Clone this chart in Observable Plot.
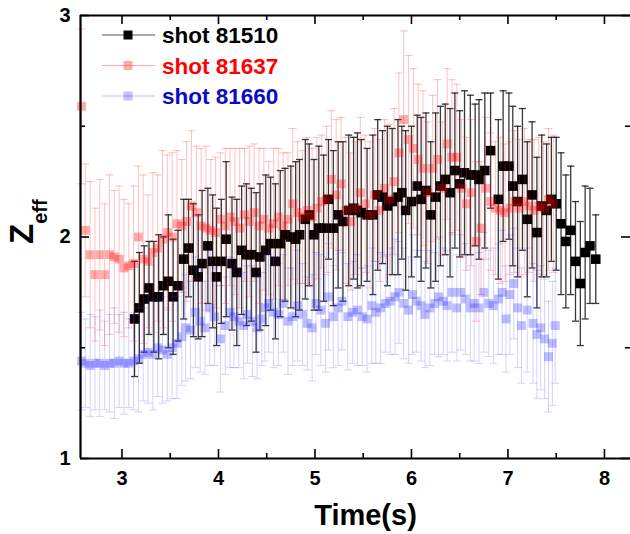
<!DOCTYPE html>
<html><head><meta charset="utf-8">
<script src="https://cdn.jsdelivr.net/npm/d3@7"></script>
<script src="https://cdn.jsdelivr.net/npm/@observablehq/plot@0.6"></script>
<style>html,body{margin:0;padding:0;background:#fff;overflow:hidden}</style>
</head><body><div id="chart"></div>
<script>
// ---- data: [time (s), Zeff, error] ----
const seriesNames = ["shot 81510", "shot 81637", "shot 81660"];
const shot81510 = [
[3.13,1.63,0.26],[3.18,1.68,0.25],[3.23,1.72,0.24],[3.28,1.77,0.21],[3.33,1.73,0.25],
[3.38,1.73,0.28],[3.43,1.78,0.22],[3.48,1.80,0.30],[3.53,1.73,0.26],[3.58,1.78,0.25],
[3.64,1.90,0.27],[3.69,1.95,0.22],[3.74,1.85,0.30],[3.79,1.82,0.28],[3.83,1.88,0.33],
[3.89,1.96,0.26],[3.94,1.89,0.30],[3.98,1.82,0.31],[4.03,1.89,0.28],[4.08,1.99,0.35],
[4.14,1.88,0.30],[4.19,1.84,0.33],[4.24,1.94,0.29],[4.29,1.92,0.32],[4.34,1.92,0.30],
[4.39,1.84,0.36],[4.43,1.91,0.33],[4.49,1.94,0.34],[4.54,1.97,0.30],[4.59,1.89,0.35],
[4.64,1.97,0.33],[4.69,2.01,0.30],[4.75,2.00,0.32],[4.80,1.99,0.35],[4.84,2.01,0.34],
[4.90,2.08,0.36],[4.94,2.10,0.32],[4.99,2.01,0.34],[5.04,2.04,0.37],[5.09,2.04,0.33],
[5.14,2.17,0.27],[5.19,2.04,0.35],[5.24,2.10,0.33],[5.29,2.07,0.36],[5.35,2.12,0.34],
[5.40,2.13,0.32],[5.44,2.12,0.35],[5.48,2.11,0.33],[5.54,2.10,0.30],[5.60,2.10,0.36],
[5.65,2.19,0.34],[5.70,2.18,0.30],[5.75,2.14,0.36],[5.80,2.16,0.33],[5.86,2.18,0.35],
[5.90,2.20,0.30],[5.94,2.12,0.36],[6.00,2.16,0.34],[6.06,2.23,0.32],[6.10,2.17,0.37],
[6.15,2.21,0.35],[6.20,2.10,0.33],[6.25,2.18,0.38],[6.30,2.23,0.36],[6.35,2.26,0.34],
[6.40,2.20,0.38],[6.45,2.30,0.35],[6.50,2.24,0.33],[6.55,2.29,0.37],[6.61,2.28,0.36],
[6.66,2.28,0.32],[6.70,2.26,0.36],[6.76,2.30,0.35],[6.82,2.39,0.26],[6.90,2.17,0.36],
[6.95,2.32,0.34],[7.01,2.32,0.33],[7.05,2.23,0.36],[7.10,2.16,0.34],[7.15,2.26,0.32],
[7.20,2.08,0.35],[7.25,2.19,0.33],[7.30,2.02,0.34],[7.35,2.14,0.32],[7.40,2.12,0.30],
[7.45,2.17,0.28],[7.50,2.15,0.30],[7.55,2.06,0.32],[7.60,1.98,0.30],[7.65,2.03,0.29],
[7.70,1.89,0.27],[7.75,1.79,0.28],[7.80,1.93,0.30],[7.85,1.96,0.26],[7.91,1.90,0.20]
];
const shot81637 = [
[2.58,2.59,0.35],[2.62,2.03,0.30],[2.67,1.92,0.33],[2.72,1.83,0.30],[2.77,1.92,0.34],
[2.82,1.83,0.32],[2.87,1.92,0.36],[2.92,1.91,0.30],[2.97,1.90,0.33],[3.02,1.86,0.31],
[3.07,1.87,0.28],[3.12,1.88,0.35],[3.17,2.00,0.32],[3.22,1.90,0.38],[3.27,1.89,0.30],
[3.32,1.93,0.36],[3.37,1.95,0.33],[3.42,1.99,0.40],[3.47,2.02,0.35],[3.52,2.00,0.38],
[3.57,2.06,0.33],[3.62,2.05,0.30],[3.67,2.07,0.36],[3.72,2.14,0.34],[3.77,2.11,0.30],
[3.82,2.05,0.35],[3.87,2.04,0.37],[3.92,2.03,0.32],[3.97,2.02,0.34],[4.02,2.08,0.30],
[4.07,2.05,0.35],[4.12,2.09,0.31],[4.17,2.07,0.33],[4.22,2.04,0.36],[4.27,2.10,0.30],
[4.32,2.07,0.34],[4.37,2.11,0.31],[4.42,2.05,0.35],[4.47,2.08,0.32],[4.52,2.04,0.30],
[4.57,2.06,0.34],[4.62,2.09,0.31],[4.67,2.05,0.33],[4.72,2.08,0.30],[4.77,2.15,0.34],
[4.82,2.11,0.32],[4.87,2.09,0.30],[4.92,2.12,0.33],[4.97,2.09,0.31],[5.02,2.13,0.32],
[5.07,2.16,0.30],[5.12,2.17,0.33],[5.17,2.26,0.31],[5.22,2.19,0.34],[5.27,2.24,0.30],
[5.32,2.12,0.33],[5.37,2.07,0.31],[5.42,2.13,0.30],[5.47,2.20,0.34],[5.52,2.15,0.31],
[5.57,2.10,0.33],[5.62,2.19,0.30],[5.67,2.12,0.32],[5.72,2.22,0.31],[5.77,2.17,0.34],
[5.82,2.25,0.33],[5.87,2.38,0.36],[5.92,2.53,0.40],[5.97,2.44,0.38],[6.02,2.40,0.36],
[6.07,2.35,0.34],[6.12,2.31,0.35],[6.17,2.20,0.32],[6.22,2.31,0.33],[6.27,2.35,0.36],
[6.32,2.22,0.30],[6.37,2.42,0.34],[6.42,2.36,0.35],[6.47,2.36,0.33],[6.52,2.22,0.31],
[6.57,2.15,0.30],[6.62,2.20,0.33],[6.67,1.98,0.36],[6.72,2.04,0.30],[6.77,2.22,0.32],
[6.82,2.16,0.31],[6.87,2.13,0.30],[6.92,2.12,0.33],[6.97,2.11,0.31],[7.02,2.13,0.30],
[7.07,2.16,0.32],[7.12,2.13,0.31],[7.17,2.16,0.33],[7.22,2.14,0.30],[7.27,2.12,0.32],
[7.32,2.14,0.31],[7.37,2.13,0.30],[7.42,2.17,0.32],[7.47,2.15,0.31]
];
const shot81660 = [
[2.58,1.44,0.22],[2.62,1.43,0.20],[2.67,1.42,0.23],[2.72,1.43,0.21],[2.77,1.43,0.24],
[2.82,1.42,0.20],[2.87,1.43,0.22],[2.92,1.43,0.25],[2.97,1.44,0.21],[3.02,1.43,0.23],
[3.07,1.43,0.20],[3.12,1.44,0.22],[3.17,1.45,0.24],[3.22,1.47,0.21],[3.27,1.48,0.23],
[3.32,1.47,0.25],[3.37,1.50,0.22],[3.42,1.49,0.24],[3.47,1.47,0.21],[3.52,1.50,0.23],
[3.57,1.52,0.25],[3.62,1.55,0.22],[3.66,1.59,0.24],[3.71,1.58,0.22],[3.76,1.66,0.25],
[3.81,1.62,0.23],[3.86,1.59,0.21],[3.91,1.68,0.26],[3.96,1.64,0.22],[4.02,1.54,0.24],
[4.07,1.60,0.22],[4.12,1.66,0.25],[4.16,1.64,0.23],[4.21,1.62,0.21],[4.26,1.60,0.24],
[4.30,1.65,0.22],[4.35,1.62,0.25],[4.40,1.59,0.23],[4.45,1.63,0.21],[4.48,1.68,0.24],
[4.52,1.70,0.22],[4.57,1.66,0.25],[4.62,1.65,0.23],[4.67,1.70,0.22],[4.72,1.62,0.24],
[4.77,1.64,0.22],[4.82,1.69,0.25],[4.87,1.65,0.23],[4.92,1.61,0.21],[4.97,1.59,0.24],
[5.01,1.70,0.23],[5.06,1.67,0.25],[5.11,1.61,0.22],[5.14,1.73,0.24],[5.19,1.64,0.23],
[5.24,1.68,0.26],[5.28,1.71,0.22],[5.34,1.64,0.24],[5.39,1.66,0.23],[5.44,1.67,0.25],
[5.49,1.64,0.22],[5.54,1.63,0.24],[5.59,1.69,0.26],[5.63,1.66,0.23],[5.68,1.68,0.25],
[5.73,1.70,0.22],[5.78,1.71,0.24],[5.83,1.73,0.26],[5.87,1.75,0.23],[5.92,1.70,0.25],
[5.97,1.67,0.24],[6.01,1.74,0.27],[6.05,1.71,0.23],[6.10,1.69,0.25],[6.14,1.65,0.24],
[6.19,1.68,0.26],[6.24,1.70,0.23],[6.28,1.73,0.27],[6.33,1.71,0.24],[6.37,1.69,0.25],
[6.42,1.75,0.27],[6.47,1.68,0.24],[6.51,1.75,0.26],[6.56,1.72,0.25],[6.61,1.68,0.24],
[6.65,1.70,0.26],[6.70,1.68,0.25],[6.75,1.75,0.27],[6.80,1.70,0.24],[6.85,1.69,0.26],
[6.90,1.72,0.25],[6.94,1.75,0.28],[6.98,1.63,0.24],[7.02,1.74,0.27],[7.06,1.79,0.25],
[7.10,1.68,0.27],[7.14,1.60,0.26],[7.20,1.67,0.28],[7.26,1.61,0.27],[7.30,1.56,0.29],
[7.34,1.59,0.28],[7.38,1.54,0.27],[7.42,1.46,0.25],[7.46,1.52,0.28],[7.49,1.60,0.26]
];
const xTicks = [3, 4, 5, 6, 7, 8];
const xMinorTicks = [3.5, 4.5, 5.5, 6.5, 7.5];
const yTicks = [1, 2, 3];
const yMinorTicks = [1.5, 2.5];
const xDomain = [2.57, 8.27];
const yDomain = [1, 3];
const xLabel = "Time(s)";
const yLabelMain = "Z";
const yLabelSub = "eff";

// ---- styling ----
const styles = [
  {bar: "#222", barOpacity: 0.9, barWidth: 1.3, capWidth: 7, fill: "#000", fillOpacity: 1, r: 5.4, text: "#000", line: "#555"},
  {bar: "#ff2020", barOpacity: 0.28, barWidth: 1, capWidth: 8, fill: "#ff0000", fillOpacity: 0.33, r: 5, text: "#ff0000", line: "#ffaaaa"},
  {bar: "#2020ff", barOpacity: 0.2, barWidth: 1, capWidth: 8, fill: "#2a2aff", fillOpacity: 0.3, r: 5, text: "#0a0ac8", line: "#c4c4ff"}
];

const W = 630, H = 534, mL = 80, mR = 0, mT = 15, mB = 76;
const plotW = W - mL - mR, plotH = H - mT - mB;
const FONT = "'Liberation Sans', Arial, Helvetica, sans-serif";

const toRows = arr => arr.map(([t, z, e]) => ({t, z, lo: z - e, hi: z + e}));
const cap = w => ({draw(ctx) { ctx.moveTo(-w / 2, 0); ctx.lineTo(w / 2, 0); }});

function seriesMarks(data, s) {
  const capOpts = {x: "t", symbol: cap(s.capWidth), fill: "none", stroke: s.bar, strokeOpacity: s.barOpacity, strokeWidth: s.barWidth};
  return [
    Plot.ruleX(data, {x: "t", y1: "lo", y2: "hi", stroke: s.bar, strokeOpacity: s.barOpacity, strokeWidth: s.barWidth}),
    Plot.dot(data, {...capOpts, y: "hi"}),
    Plot.dot(data, {...capOpts, y: "lo"}),
    Plot.dot(data, {x: "t", y: "z", symbol: "square", r: s.r, fill: s.fill, fillOpacity: s.fillOpacity, stroke: "none"})
  ];
}

const all = [shot81510, shot81637, shot81660].map(toRows);
const majorLen = 9, minorLen = 5;

const chart = Plot.plot({
  width: W, height: H,
  marginLeft: mL, marginRight: mR, marginTop: mT, marginBottom: mB,
  style: {fontFamily: FONT, background: "#fff", color: "#000"},
  x: {domain: xDomain},
  y: {domain: yDomain},
  marks: [
    ...seriesMarks(all[0], styles[0]),
    ...seriesMarks(all[1], styles[1]),
    ...seriesMarks(all[2], styles[2]),
    // tick marks (inward) on all four sides
    Plot.ruleX(xTicks, {x: d => d, insetTop: plotH - majorLen, strokeWidth: 1.6}),
    Plot.ruleX(xMinorTicks, {x: d => d, insetTop: plotH - minorLen, strokeWidth: 1.6}),
    Plot.ruleX(xTicks, {x: d => d, insetBottom: plotH - majorLen, strokeWidth: 1.6}),
    Plot.ruleX(xMinorTicks, {x: d => d, insetBottom: plotH - minorLen, strokeWidth: 1.6}),
    Plot.ruleY(yTicks, {y: d => d, insetRight: plotW - majorLen, strokeWidth: 1.6}),
    Plot.ruleY(yMinorTicks, {y: d => d, insetRight: plotW - minorLen, strokeWidth: 1.6}),
    Plot.ruleY(yTicks, {y: d => d, insetLeft: plotW - majorLen, strokeWidth: 1.6}),
    Plot.ruleY(yMinorTicks, {y: d => d, insetLeft: plotW - minorLen, strokeWidth: 1.6}),
    // axis lines
    Plot.ruleX([xDomain[0]], {strokeWidth: 2.2}),
    Plot.ruleY([yDomain[0]], {strokeWidth: 2.2}),
    Plot.ruleY([yDomain[1]], {strokeWidth: 2.2}),
    // tick labels
    Plot.axisX({ticks: xTicks, tickFormat: d3.format("d"), tickSize: 0, tickPadding: 12, fontSize: 20, fontWeight: "bold", label: null}),
    Plot.axisY({ticks: yTicks, tickFormat: d3.format("d"), tickSize: 0, tickPadding: 10, fontSize: 20, fontWeight: "bold", label: null}),
    Plot.text([xLabel], {text: d => d, frameAnchor: "bottom", dx: 10, dy: 57, lineAnchor: "middle", fontSize: 29, fontWeight: "bold"})
  ]
});

document.getElementById("chart").appendChild(chart);

const svg = d3.select(chart);
// y axis label Z_eff
const yl = svg.append("text")
  .attr("transform", "translate(33,244) rotate(-90)")
  .attr("text-anchor", "start")
  .attr("font-family", FONT).attr("font-weight", "bold").attr("fill", "#000");
yl.append("tspan").attr("font-size", 33).text(yLabelMain);
yl.append("tspan").attr("font-size", 20).attr("dy", 14).text(yLabelSub);

// legend
const lg = svg.append("g").attr("font-family", FONT).attr("font-weight", "bold").attr("text-anchor", "start");
seriesNames.forEach((name, i) => {
  const s = styles[i];
  const cy = 35 + i * 30.5;
  lg.append("line").attr("x1", 102).attr("x2", 155).attr("y1", cy).attr("y2", cy)
    .attr("stroke", s.line).attr("stroke-width", 1.2);
  lg.append("rect").attr("x", 123.5).attr("y", cy - 4.5).attr("width", 9).attr("height", 9)
    .attr("fill", s.fill).attr("fill-opacity", s.fillOpacity);
  lg.append("text").attr("x", 162).attr("y", cy).attr("dy", "0.36em")
    .attr("font-size", 22.5).attr("fill", s.text).text(name);
});
</script>
</body></html>
